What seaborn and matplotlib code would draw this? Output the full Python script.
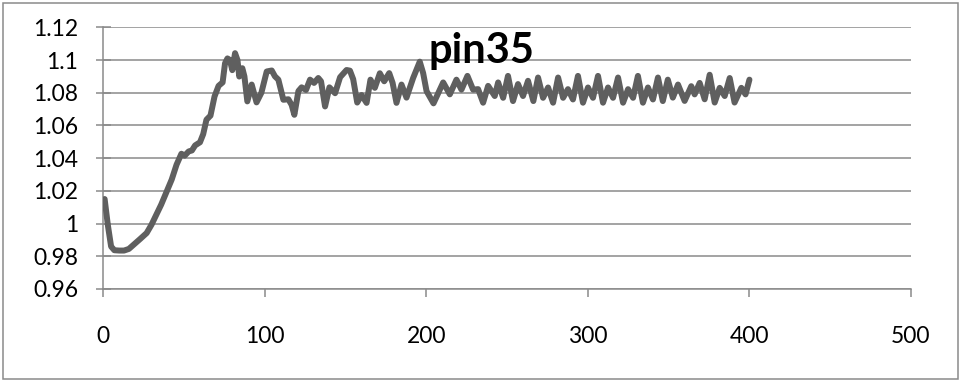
import matplotlib
matplotlib.use("Agg")
import matplotlib.pyplot as plt
from matplotlib.patches import Rectangle
import seaborn as sns
import pandas as pd

# pin35 trace: sample index vs. relative value
step = [1, 3, 5, 7, 10, 13, 16, 19, 23, 27, 30, 33, 36, 39, 42.5, 45.5, 48.5, 50.5,
        53, 55, 57, 60, 62, 64, 66.5, 69, 71.5, 74, 75.5, 77, 78.5, 80, 81.7, 83.2,
        84.3, 86.2, 87.5, 89.3, 92, 95, 98, 101.3, 104.4, 106.4, 108.5, 111.6, 114.7,
        116.7, 118.4, 120.9, 122.9, 125.6, 128.1, 130.6, 133.2, 134.9, 137.4, 140.1,
        143.6, 146.7, 150.7, 152.8, 154.8, 157.3, 160, 163.1, 165.5, 168.2, 171.3,
        174, 177.1, 179.2, 181.6, 184.7, 187.8, 191.9, 196, 198.1, 200.2, 204.5,
        210.5, 214.6, 218.7, 221.8, 225.5, 229, 232.1, 235.2, 238.3, 242.4, 244.5,
        247.6, 250.6, 253.7, 256.8, 259.9, 263, 266.3, 269.2, 272.3, 275.4, 278.5,
        281.6, 284.7, 287.7, 290.8, 293.9, 297, 300.1, 303.2, 306.3, 309.4, 312.5,
        315.6, 318.7, 321.8, 324.9, 328, 331, 334.1, 337.2, 340.3, 343.4, 346.4,
        349.5, 352.6, 355.8, 359.9, 364, 366.1, 369.2, 372.3, 375.4, 378.5, 381.6,
        384.7, 387.8, 390.8, 395, 397.6, 400]
pin35 = [1.015, 0.999, 0.986, 0.9837, 0.9835, 0.9835, 0.9845, 0.9871, 0.9906, 0.9942,
         0.9993, 1.0055, 1.0116, 1.0187, 1.0269, 1.036, 1.0427, 1.0415, 1.0441, 1.0447,
         1.0478, 1.0497, 1.0547, 1.0635, 1.066, 1.0777, 1.0842, 1.0863, 1.098, 1.101,
         1.100, 1.0938, 1.1042, 1.100, 1.0899, 1.095, 1.090, 1.0747, 1.085, 1.0741,
         1.080, 1.093, 1.0936, 1.090, 1.088, 1.0757, 1.076, 1.0726, 1.0665, 1.081,
         1.0833, 1.0817, 1.088, 1.086, 1.089, 1.087, 1.0716, 1.0833, 1.0797, 1.0895,
         1.0939, 1.0935, 1.0883, 1.074, 1.0786, 1.0738, 1.088, 1.083, 1.0919, 1.087,
         1.092, 1.086, 1.0738, 1.085, 1.077, 1.089, 1.099, 1.092, 1.081, 1.0735,
         1.0863, 1.079, 1.088, 1.0819, 1.0903, 1.0819, 1.0822, 1.0739, 1.0842, 1.078,
         1.0863, 1.0769, 1.0903, 1.0749, 1.0853, 1.078, 1.0873, 1.0749, 1.0893, 1.0769,
         1.0832, 1.0739, 1.0893, 1.0769, 1.0822, 1.0759, 1.0903, 1.0739, 1.0832, 1.0769,
         1.0903, 1.0739, 1.0832, 1.0769, 1.0893, 1.0739, 1.0822, 1.0769, 1.0903, 1.0739,
         1.0832, 1.0759, 1.0893, 1.0749, 1.088, 1.077, 1.085, 1.075, 1.084, 1.079,
         1.086, 1.076, 1.091, 1.074, 1.083, 1.078, 1.089, 1.074, 1.083, 1.079, 1.088]

x_ticks = [0, 100, 200, 300, 400, 500]
y_ticks = [0.96, 0.98, 1.0, 1.02, 1.04, 1.06, 1.08, 1.1, 1.12]
y_tick_labels = ["0.96", "0.98", "1", "1.02", "1.04", "1.06", "1.08", "1.1", "1.12"]
title_text = "pin35"

sns.set_style("white")
plt.rcParams["font.family"] = ["Lato", "DejaVu Sans"]

GRID = "#8a8a8a"
LINE = "#5f5f5f"

fig = plt.figure(figsize=(9.61, 3.81), dpi=100)
ax = fig.add_axes([0.1072, 0.2415, 0.9480 - 0.1072, 0.9283 - 0.2415])

df = pd.DataFrame({"step": step, "value": pin35})
sns.lineplot(data=df, x="step", y="value", ax=ax, color=LINE, linewidth=4.3,
             sort=False, estimator=None, zorder=3)
for ln in ax.get_lines():
    ln.set_solid_joinstyle("round")
    ln.set_solid_capstyle("round")

ax.set_xlim(0, 500)
ax.set_ylim(0.96, 1.12)
ax.set_xticks(x_ticks)
ax.set_xticklabels([str(t) for t in x_ticks])
ax.set_yticks(y_ticks)
ax.set_yticklabels(y_tick_labels)
ax.set_xlabel("")
ax.set_ylabel("")

ax.yaxis.grid(True, color=GRID, linewidth=1.1)
ax.xaxis.grid(False)
ax.set_axisbelow(True)

for side in ("top", "right"):
    ax.spines[side].set_visible(False)
for side in ("left", "bottom"):
    ax.spines[side].set_color(GRID)
    ax.spines[side].set_linewidth(1.1)

ax.tick_params(axis="y", direction="inout", length=10.8, width=1.1, color=GRID,
               labelsize=16.5, pad=12.5, labelcolor="black", left=True)
ax.tick_params(axis="x", direction="out", length=5.8, width=1.1, color=GRID,
               labelsize=16.5, pad=21, labelcolor="black", bottom=True)

fig.text(0.501, 0.835, title_text, ha="center", va="baseline",
         fontsize=30, fontweight="bold", color="black")

fig.patches.append(Rectangle((2.5 / 961, 2.5 / 381), 955.5 / 961, 375.5 / 381,
                             transform=fig.transFigure, fill=False,
                             edgecolor=GRID, linewidth=1.1))

fig.savefig("out.png", dpi=100)
